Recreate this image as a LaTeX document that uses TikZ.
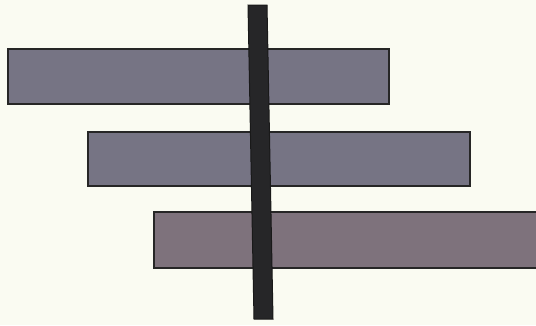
\documentclass[tikz,border=0pt]{standalone}
\begin{document}
\begin{tikzpicture}[x=1pt,y=-1pt,
  bar/.style={draw=black!85,line width=2.5pt,fill=barfill},
  post/.style={fill=postfill,draw=black!90,line width=1pt}]
\definecolor{barfill}{RGB}{118,116,132}
\definecolor{barfillb}{RGB}{126,114,124}
\definecolor{postfill}{RGB}{38,38,40}
\definecolor{paper}{RGB}{250,251,242}
\fill[paper] (0,0) rectangle (536,325);
\useasboundingbox (0,0) rectangle (536,325);
\draw[bar] (8,49) rectangle (389,104);
\draw[bar] (88,132) rectangle (470,186);
\draw[bar,fill=barfillb] (154,212) rectangle (537,268);
\draw[post] (248,5) -- (267,5) -- (273,319) -- (254,319) -- cycle;
\end{tikzpicture}
\end{document}
